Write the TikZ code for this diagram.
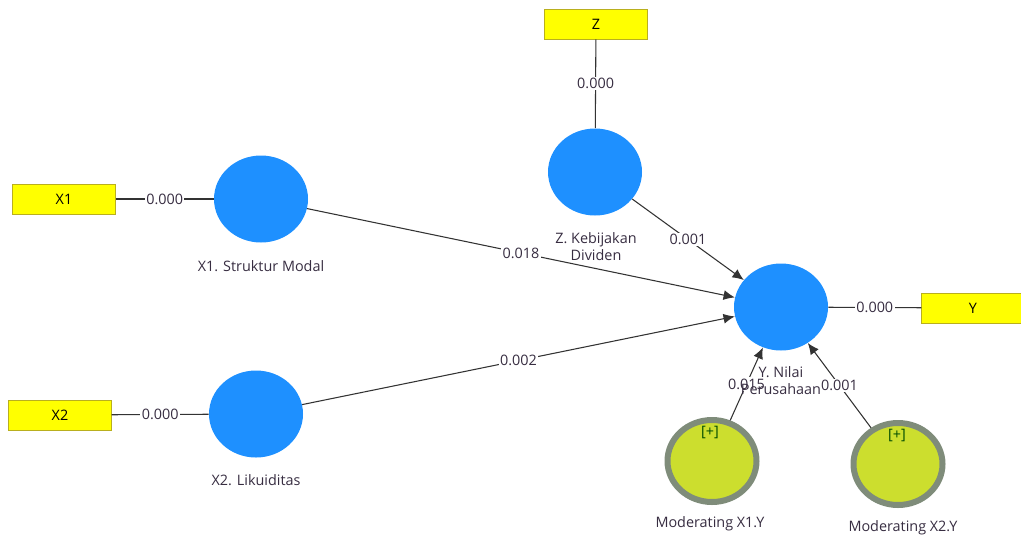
\documentclass[tikz,border=0pt]{standalone}
\usepackage{fontspec}
\setmainfont{Open Sans}
\usetikzlibrary{shapes.geometric,arrows.meta}
\definecolor{lvblue}{RGB}{30,144,255}
\definecolor{mvyellow}{RGB}{255,255,0}
\definecolor{mvborder}{RGB}{185,175,30}
\definecolor{modfill}{RGB}{204,222,46}
\definecolor{modring}{RGB}{127,140,122}
\definecolor{txtgray}{RGB}{55,45,65}
\begin{document}
\begin{tikzpicture}[x=0.75pt,y=-0.75pt,>={Latex[length=8.5pt,width=7.5pt]},
    font=\fontsize{10.8}{12.75}\selectfont,
    latent/.style={ellipse,fill=lvblue,minimum width=70.5pt,minimum height=65.25pt,inner sep=0pt},
    ind/.style={rectangle,draw=mvborder,fill=mvyellow,minimum width=77pt,minimum height=22.5pt,inner sep=0pt},
    moder/.style={ellipse,draw=modring,line width=4.5pt,fill=modfill,minimum width=66.75pt,minimum height=61.5pt,inner sep=0pt},
    coef/.style={fill=white,inner sep=1pt,text=txtgray},
    lvname/.style={text=txtgray,align=center},
    link/.style={draw=black!80,line width=0.8pt}]
    \useasboundingbox (0,0) rectangle (1021,537);
    % indicators
    \node[ind](bx1) at (64,199) {X1};
    \node[ind](bx2) at (60,415) {X2};
    \node[ind](bz) at (596,24) {Z};
    \node[ind](by) at (973,308) {Y};
    % latent variables
    \node[latent](x1) at (261,199) {};
    \node[latent](x2) at (256,414) {};
    \node[latent](z) at (595,172) {};
    \node[latent](y) at (781,307) {};
    \node[moder](m1) at (712,461) {};
    \node[moder](m2) at (898,464) {};
    \node[text=green!30!black](p1) at (710,432) {[+]};
    \node[text=green!30!black](p2) at (897,435) {[+]};
    % outer loadings
    \draw[link](bx1)--(x1)node[coef,midway]{0.000};
    \draw[link](bx2)--(x2)node[coef,midway]{0.000};
    \draw[link](bz)--(z)node[coef,midway]{0.000};
    \draw[link](y)--(by)node[coef,midway]{0.000};
    % paths
    \draw[link,->](x1)--(y)node[coef,midway]{0.018};
    \draw[link,->](x2)--(y)node[coef,midway]{0.002};
    \draw[link,->](z)--(y)node[coef,midway]{0.001};
    \draw[link,->](m1)--(y)node[coef,midway]{0.015};
    \draw[link,->](m2)--(y)node[coef,midway]{0.001};
    % names
    \node[lvname](nx1) at (261,266) {X1. Struktur Modal};
    \node[lvname](nx2) at (256,480) {X2. Likuiditas};
    \node[lvname](nz) at (596,247) {Z. Kebijakan\\Dividen};
    \node[lvname](ny) at (781,381) {Y. Nilai\\Perusahaan};
    \node[lvname](nm1) at (710,524) {Moderating X1.Y};
    \node[lvname](nm2) at (903,528) {Moderating X2.Y};
\end{tikzpicture}
\end{document}
